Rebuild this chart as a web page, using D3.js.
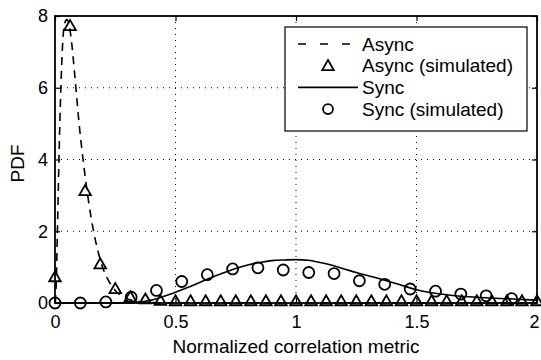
<!DOCTYPE html>
<html>
<head>
<meta charset="utf-8">
<script src="https://cdn.jsdelivr.net/npm/d3@7"></script>
<style>
  body { margin: 0; background: #fff; }
  svg { display: block; font-family: "Liberation Sans", Arial, Helvetica, sans-serif; }
  .tick text { font-size: 18px; fill: #000; }
  .grid line { stroke: #000; stroke-width: 1; stroke-dasharray: 1,5; }
</style>
</head>
<body>
<div id="graphic"></div>
<script>
// async analytic curve (dashed)
const asyncCurveX = [0, 0.005, 0.01, 0.02, 0.03, 0.04, 0.05, 0.06, 0.07, 0.08, 0.1, 0.12, 0.14, 0.16, 0.18, 0.2, 0.22, 0.25, 0.3, 0.35, 0.4, 0.5, 1, 1.5, 2];
const asyncCurveY = [0, 0.5, 2.0, 5.0, 7.0, 7.8, 7.9, 7.7, 7.2, 6.5, 5.0, 3.8, 2.8, 2.0, 1.4, 0.95, 0.65, 0.35, 0.12, 0.04, 0.01, 0, 0, 0, 0];

// sync analytic curve (solid)
const syncCurveX = [0, 0.3, 0.35, 0.4, 0.45, 0.5, 0.55, 0.6, 0.65, 0.7, 0.75, 0.8, 0.85, 0.9, 0.95, 1.0, 1.05, 1.1, 1.15, 1.2, 1.25, 1.3, 1.35, 1.4, 1.45, 1.5, 1.55, 1.6, 1.65, 1.7, 1.8, 1.9, 2.0];
const syncCurveY = [0, 0, 0.02, 0.08, 0.18, 0.3, 0.43, 0.57, 0.71, 0.84, 0.96, 1.06, 1.13, 1.18, 1.2, 1.21, 1.19, 1.13, 1.05, 0.95, 0.85, 0.76, 0.67, 0.57, 0.47, 0.37, 0.3, 0.25, 0.21, 0.18, 0.14, 0.11, 0.08];

// async simulated (triangles)
const asyncSimX = [0, 0.0625, 0.125, 0.1875, 0.25, 0.3125, 0.375, 0.4375, 0.5, 0.5625, 0.625, 0.6875, 0.75, 0.8125, 0.875, 0.9375, 1.0,
  1.0625, 1.125, 1.1875, 1.25, 1.3125, 1.375, 1.4375, 1.5, 1.5625, 1.625, 1.6875, 1.75, 1.8125, 1.875, 1.9375, 2.0];
const asyncSimY = [0.7, 7.7, 3.1, 1.06, 0.37, 0.14, 0.08, 0.04, 0.03, 0.03, 0.03, 0.03, 0.03, 0.03, 0.03, 0.03, 0.03,
  0.03, 0.03, 0.03, 0.03, 0.03, 0.03, 0.03, 0.03, 0.03, 0.03, 0.03, 0.03, 0.03, 0.03, 0.03, 0.03];

// sync simulated (circles)
const syncSimX = [0, 0.105, 0.211, 0.316, 0.421, 0.526, 0.632, 0.737, 0.842, 0.947, 1.053, 1.158, 1.263, 1.368, 1.474, 1.579, 1.684, 1.789, 1.895];
const syncSimY = [0, 0, 0.03, 0.16, 0.35, 0.6, 0.79, 0.95, 0.98, 0.92, 0.85, 0.82, 0.62, 0.52, 0.39, 0.33, 0.25, 0.2, 0.12];

const xTicks = [0, 0.5, 1, 1.5, 2];
const yTicks = [0, 2, 4, 6, 8];
const legendLabels = ['Async', 'Async (simulated)', 'Sync', 'Sync (simulated)'];

const W = 541, H = 360;
const margin = { top: 16, right: 4, bottom: 57, left: 55 };
const width = W - margin.left - margin.right;
const height = H - margin.top - margin.bottom;

const svg = d3.select('#graphic').append('svg')
  .attr('width', W)
  .attr('height', H);

const g = svg.append('g')
  .attr('transform', 'translate(' + margin.left + ',' + margin.top + ')');

const x = d3.scaleLinear().domain([0, 2]).range([0, width]);
const y = d3.scaleLinear().domain([0, 8]).range([height, 0]);

// dotted grid
const grid = g.append('g').attr('class', 'grid');
grid.selectAll('.gx').data(xTicks.slice(1, -1)).enter().append('line')
  .attr('x1', d => x(d)).attr('x2', d => x(d))
  .attr('y1', 0).attr('y2', height);
grid.selectAll('.gy').data(yTicks.slice(1, -1)).enter().append('line')
  .attr('x1', 0).attr('x2', width)
  .attr('y1', d => y(d)).attr('y2', d => y(d));

// axes, ticks pointing inward
const styleAxis = sel => {
  sel.select('.domain').remove();
  sel.selectAll('.tick line').attr('stroke', '#000').attr('stroke-width', 1.2);
};

g.append('g')
  .attr('transform', 'translate(0,' + height + ')')
  .call(d3.axisBottom(x).tickValues(xTicks).tickFormat(d3.format('')).tickSizeInner(-5).tickSizeOuter(0).tickPadding(12))
  .call(styleAxis)
  .selectAll('.tick text')
  .attr('dx', d => d === 2 ? -3 : 0);
g.append('g')
  .call(d3.axisTop(x).tickValues(xTicks).tickFormat('').tickSizeInner(-5).tickSizeOuter(0))
  .call(styleAxis);
g.append('g')
  .call(d3.axisLeft(y).tickValues(yTicks).tickSizeInner(-5).tickSizeOuter(0).tickPadding(7))
  .call(styleAxis);
g.append('g')
  .attr('transform', 'translate(' + width + ',0)')
  .call(d3.axisRight(y).tickValues(yTicks).tickFormat('').tickSizeInner(-5).tickSizeOuter(0))
  .call(styleAxis);

// curves
const asyncCurve = asyncCurveX.map((d, i) => [d, asyncCurveY[i]]);
const syncCurve = syncCurveX.map((d, i) => [d, syncCurveY[i]]);
const line = d3.line()
  .x(d => x(d[0]))
  .y(d => y(d[1]))
  .curve(d3.curveMonotoneX);

g.append('path')
  .datum(syncCurve)
  .attr('d', line)
  .attr('fill', 'none')
  .attr('stroke', '#000')
  .attr('stroke-width', 1.6);

g.append('path')
  .datum(asyncCurve)
  .attr('d', line)
  .attr('fill', 'none')
  .attr('stroke', '#000')
  .attr('stroke-width', 1.6)
  .attr('stroke-dasharray', '8,6');

// simulated markers
const tri = d3.symbol().type(d3.symbolTriangle).size(58);

g.selectAll('.tri')
  .data(asyncSimX.map((d, i) => [d, asyncSimY[i]]))
  .enter().append('path')
  .attr('class', 'tri')
  .attr('transform', d => 'translate(' + x(d[0]) + ',' + y(d[1]) + ')')
  .attr('d', tri)
  .attr('fill', 'none')
  .attr('stroke', '#000')
  .attr('stroke-width', 1.8);

g.selectAll('.circ')
  .data(syncSimX.map((d, i) => [d, syncSimY[i]]))
  .enter().append('circle')
  .attr('class', 'circ')
  .attr('cx', d => x(d[0]))
  .attr('cy', d => y(d[1]))
  .attr('r', 5.5)
  .attr('fill', 'none')
  .attr('stroke', '#000')
  .attr('stroke-width', 1.8);

// box
g.append('rect')
  .attr('width', width)
  .attr('height', height)
  .attr('fill', 'none')
  .attr('stroke', '#000')
  .attr('stroke-width', 1.8);

// axis labels
svg.append('text')
  .attr('x', margin.left + width / 2)
  .attr('y', 353)
  .attr('text-anchor', 'middle')
  .attr('font-size', 19)
  .text('Normalized correlation metric');

svg.append('text')
  .attr('transform', 'translate(24,' + (margin.top + height / 2 + 4) + ') rotate(-90)')
  .attr('text-anchor', 'middle')
  .attr('font-size', 19)
  .text('PDF');

// legend
const legend = svg.append('g').attr('transform', 'translate(285,27)');
legend.append('rect')
  .attr('width', 242)
  .attr('height', 104)
  .attr('fill', '#fff')
  .attr('stroke', '#000')
  .attr('stroke-width', 1.2);

const legendRow = 21.7;
const items = legend.selectAll('.legend')
  .data(legendLabels)
  .enter().append('g')
  .attr('class', 'legend')
  .attr('transform', (d, i) => 'translate(0,' + (17 + i * legendRow) + ')');

items.filter((d, i) => i === 0 || i === 2).append('line')
  .attr('x1', 13).attr('x2', 73)
  .attr('stroke', '#000')
  .attr('stroke-width', 1.6)
  .attr('stroke-dasharray', (d, i) => i === 0 ? '8,14' : null);

items.filter((d, i) => i === 1).append('path')
  .attr('transform', 'translate(43,1)')
  .attr('d', tri)
  .attr('fill', 'none')
  .attr('stroke', '#000')
  .attr('stroke-width', 1.8);

items.filter((d, i) => i === 3).append('circle')
  .attr('cx', 43)
  .attr('r', 5)
  .attr('fill', 'none')
  .attr('stroke', '#000')
  .attr('stroke-width', 1.8);

items.append('text')
  .attr('x', 77)
  .attr('dy', '0.35em')
  .attr('font-size', 19)
  .text(d => d);
</script>
</body>
</html>
